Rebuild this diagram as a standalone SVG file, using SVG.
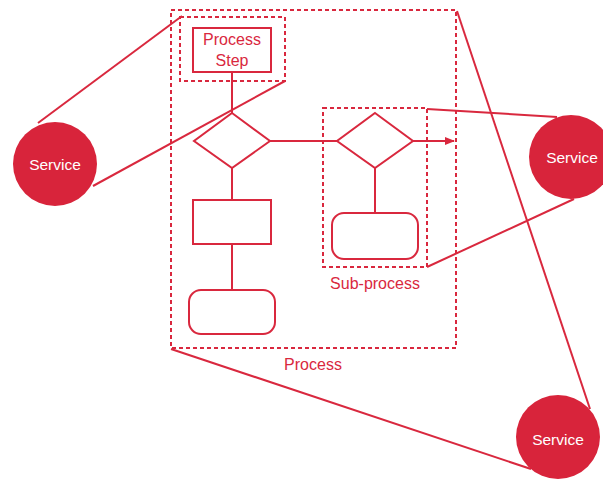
<svg xmlns="http://www.w3.org/2000/svg" width="603" height="480" viewBox="0 0 603 480">
  <style>
    .ln { fill: none; stroke: #d9283e; stroke-width: 2; }
    .dash { fill: none; stroke: #d9283e; stroke-width: 2; stroke-dasharray: 4 3; }
    .svc { fill: #d8243b; }
    .lbl { font-family: "Liberation Sans", Arial, sans-serif; font-size: 16px; fill: #d9283e; text-anchor: middle; }
    .svct { font-family: "Liberation Sans", Arial, sans-serif; font-size: 15.5px; fill: #ffffff; text-anchor: middle; }
  </style>
  <defs>
    <marker id="arrow" markerWidth="10" markerHeight="10" refX="9" refY="5" orient="auto" markerUnits="userSpaceOnUse">
      <path d="M0,1 L10,5 L0,9 Z" fill="#d9283e"/>
    </marker>
  </defs>
  <rect width="603" height="480" fill="#ffffff"/>

  <!-- containers -->
  <g id="process">
    <rect class="dash" x="171" y="10" width="285" height="338"/>
    <text class="lbl" x="313" y="370">Process</text>
  </g>
  <g id="step-frame">
    <rect class="dash" x="180" y="17" width="105" height="64"/>
  </g>
  <g id="sub-process">
    <rect class="dash" x="323" y="108" width="104" height="159"/>
    <text class="lbl" x="375" y="289">Sub-process</text>
  </g>

  <!-- connectors -->
  <g id="connectors">
    <line class="ln" x1="232" y1="72" x2="232" y2="113"/>
    <line class="ln" x1="270" y1="141" x2="337" y2="141"/>
    <line class="ln" x1="413" y1="141" x2="454" y2="141" marker-end="url(#arrow)"/>
    <line class="ln" x1="232" y1="168" x2="232" y2="200"/>
    <line class="ln" x1="232" y1="244" x2="232" y2="290"/>
    <line class="ln" x1="375" y1="168" x2="375" y2="213"/>
    <!-- service links -->
    <line class="ln" x1="38" y1="123" x2="182" y2="16"/>
    <line class="ln" x1="93" y1="186" x2="285" y2="81"/>
    <line class="ln" x1="427" y1="109" x2="557" y2="117"/>
    <line class="ln" x1="427" y1="267" x2="574" y2="199"/>
    <line class="ln" x1="457" y1="11" x2="590" y2="409"/>
    <line class="ln" x1="171" y1="349" x2="531" y2="469"/>
  </g>

  <!-- nodes -->
  <g id="process-step">
    <rect class="ln" x="193" y="28" width="78" height="44"/>
    <text class="lbl" x="232" y="45">Process</text>
    <text class="lbl" x="232" y="66">Step</text>
  </g>
  <g id="decision-1">
    <polygon class="ln" points="232,113 270,141 232,168 194,141"/>
  </g>
  <g id="decision-2">
    <polygon class="ln" points="375,113 413,141 375,168 337,141"/>
  </g>
  <g id="task-1">
    <rect class="ln" x="193" y="200" width="78" height="44"/>
  </g>
  <g id="terminal-1">
    <rect class="ln" x="189" y="290" width="86" height="44" rx="12"/>
  </g>
  <g id="terminal-2">
    <rect class="ln" x="332" y="213" width="86" height="46" rx="12"/>
  </g>

  <g id="service-left">
    <circle class="svc" cx="55" cy="164" r="42"/>
    <text class="svct" x="55" y="170">Service</text>
  </g>
  <g id="service-right">
    <circle class="svc" cx="571" cy="157" r="42"/>
    <text class="svct" x="572" y="163">Service</text>
  </g>
  <g id="service-bottom">
    <circle class="svc" cx="558" cy="437" r="42"/>
    <text class="svct" x="558" y="445">Service</text>
  </g>
</svg>
